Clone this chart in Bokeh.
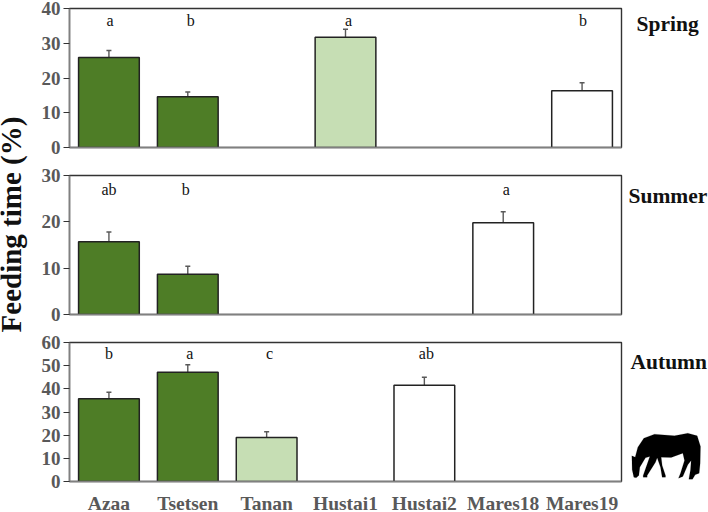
from bokeh.plotting import figure
from bokeh.embed import file_html
from bokeh.resources import INLINE
from bokeh.layouts import row, column
from bokeh.models import (ColumnDataSource, FactorRange, Range1d, Whisker, TeeHead,
                          Label, PolyAnnotation, FixedTicker)
from bokeh.core.properties import value

FONT = "Liberation Serif"
cats = ["Azaa", "Tsetsen", "Tanan", "Hustai1", "Hustai2", "Mares18", "Mares19"]
DARK, LIGHT, WHITE = "#4e7d26", "#c6deb4", "#ffffff"

spring_cats = ["Azaa", "Tsetsen", "Hustai1", "Mares19"]
spring_vals = [25.9, 14.6, 31.7, 16.3]
spring_tops = [27.9, 16.0, 34.0, 18.6]
spring_cols = [DARK, DARK, LIGHT, WHITE]
spring_lets = ["a", "b", "a", "b"]

summer_cats = ["Azaa", "Tsetsen", "Mares18"]
summer_vals = [15.7, 8.7, 19.8]
summer_tops = [17.8, 10.4, 22.2]
summer_cols = [DARK, DARK, WHITE]
summer_lets = ["ab", "b", "a"]

autumn_cats = ["Azaa", "Tsetsen", "Tanan", "Hustai2"]
autumn_vals = [35.7, 47.2, 19.0, 41.6]
autumn_tops = [38.5, 50.4, 21.5, 45.0]
autumn_cols = [DARK, DARK, LIGHT, WHITE]
autumn_lets = ["b", "a", "c", "ab"]

# horse silhouette outline, page pixels at 3x relative to (354,256)
horse = [(832,598),(842,602),(850,572),(868,545),(900,533),(960,538),(1000,530),(1028,538),
         (1038,570),(1037,620),(1034,650),(1022,655),(1014,668),(1003,668),(1008,640),(1010,612),
         (1000,625),(985,660),(972,665),(978,650),(990,612),(985,590),(950,603),(920,602),
         (923,627),(933,657),(933,662),(923,662),(918,632),(908,604),(903,617),(878,657),
         (878,662),(866,662),(866,657),(886,600),(873,604),(856,632),(853,657),(845,664),
         (838,662),(833,640)]

GREY = "#595959"
AXIS = "#808080"
STRIP = 29
SIDE_X = 623


def panel(cs, vals, tops, cols, lets, ymax, step, lab_y, dx, height, top, bottom, fh, show_x):
    p = figure(x_range=FactorRange(*cats), y_range=Range1d(0, ymax), width=SIDE_X - STRIP, height=height,
               frame_width=552, frame_height=fh, min_border_left=69 - STRIP, min_border_right=2,
               min_border_top=top, min_border_bottom=bottom,
               toolbar_location=None, output_backend="svg", background_fill_color="white",
               border_fill_color=None)
    p.grid.visible = False
    p.outline_line_color = "#333333"
    p.outline_line_width = 1.4

    src = ColumnDataSource(dict(x=cs, v=vals, t=tops, c=cols, l=lets, ly=[lab_y] * len(cs), dx=dx))
    w = Whisker(base="x", lower="v", upper="t", source=src, line_color=GREY, line_width=1.4,
                upper_head=TeeHead(size=5, line_color=GREY, line_width=1.5), lower_head=None)
    p.add_layout(w)
    p.vbar(x="x", top="v", bottom=0, width=0.77, fill_color="c", line_color="#222222",
           line_width=1.5, source=src)
    p.text(x="x", y="ly", text="l", x_offset="dx", text_font=value(FONT), text_font_size="16px",
           text_color="#111111", text_align="center", text_baseline="middle", source=src)

    ya = p.yaxis[0]
    ya.ticker = FixedTicker(ticks=list(range(0, ymax + 1, step)))
    ya.axis_line_color = AXIS
    ya.axis_line_width = 1.5
    ya.major_tick_line_color = "#333333"
    ya.major_tick_line_width = 1.2
    ya.major_tick_in = 0
    ya.major_tick_out = 6
    ya.minor_tick_line_color = None
    ya.major_label_text_font = FONT
    ya.major_label_text_font_style = "bold"
    ya.major_label_text_font_size = "19px"
    ya.major_label_text_color = GREY
    ya.major_label_standoff = 3

    xa = p.xaxis[0]
    xa.axis_line_color = AXIS
    xa.axis_line_width = 1.5
    xa.major_tick_line_color = None
    xa.minor_tick_line_color = None
    xa.major_label_orientation = "horizontal"
    if show_x:
        xa.major_label_text_font = FONT
        xa.major_label_text_font_style = "bold"
        xa.major_label_text_font_size = "19.5px"
        xa.major_label_text_color = GREY
        xa.major_label_standoff = 5
    else:
        xa.major_label_text_font_size = "0px"
        xa.major_label_text_color = None
    return p


p1 = panel(spring_cats, spring_vals, spring_tops, spring_cols, spring_lets, 40, 10, 36.6, [1, 3, 3, 1],
           160, 8, 13, 139, False)
p2 = panel(summer_cats, summer_vals, summer_tops, summer_cols, summer_lets, 30, 10, 26.9, [0, -2, 3],
           168, 15, 14, 139, False)
p3 = panel(autumn_cats, autumn_vals, autumn_tops, autumn_cols, autumn_lets, 60, 10, 55.1, [0, 2, 3, 2],
           184, 14, 31, 139, True)

side = figure(width=708 - SIDE_X, height=512, x_range=Range1d(0, 1), y_range=Range1d(0, 1),
              toolbar_location=None, output_backend="svg", min_border=0,
              outline_line_color=None, border_fill_color=None)
side.axis.visible = False
side.grid.visible = False
for text, x, base in [("Spring", 636, 23), ("Summer", 628, 195), ("Autumn", 630, 361)]:
    side.add_layout(Label(x=x - SIDE_X, y=512 - base, x_units="screen", y_units="screen", text=text,
                          text_font=FONT, text_font_style="bold", text_font_size="21.5px",
                          text_color="#111111", text_baseline="alphabetic", text_align="left"))
side.add_layout(PolyAnnotation(
    xs=[(354 + hx / 3) - SIDE_X for hx, hy in horse],
    ys=[512 - (256 + hy / 3) for hx, hy in horse],
    xs_units="screen", ys_units="screen",
    fill_color="black", fill_alpha=1, line_color="black", line_width=0.5, level="overlay",
    editable=False))

strip = figure(width=STRIP, height=512, x_range=Range1d(0, 1), y_range=Range1d(0, 1),
               toolbar_location=None, output_backend="svg", min_border=0,
               outline_line_color=None, border_fill_color=None)
strip.axis.visible = False
strip.grid.visible = False
strip.add_layout(Label(x=10, y=512 - 224, x_units="screen", y_units="screen", text="Feeding time (%)",
                       angle=90, angle_units="deg", text_font=FONT, text_font_style="bold",
                       text_font_size="29px", text_color="#111111", text_align="center",
                       text_baseline="alphabetic"))

layout = row(strip, column(p1, p2, p3, spacing=0), side, spacing=0)
open("out.html", "w").write(file_html(layout, INLINE))
